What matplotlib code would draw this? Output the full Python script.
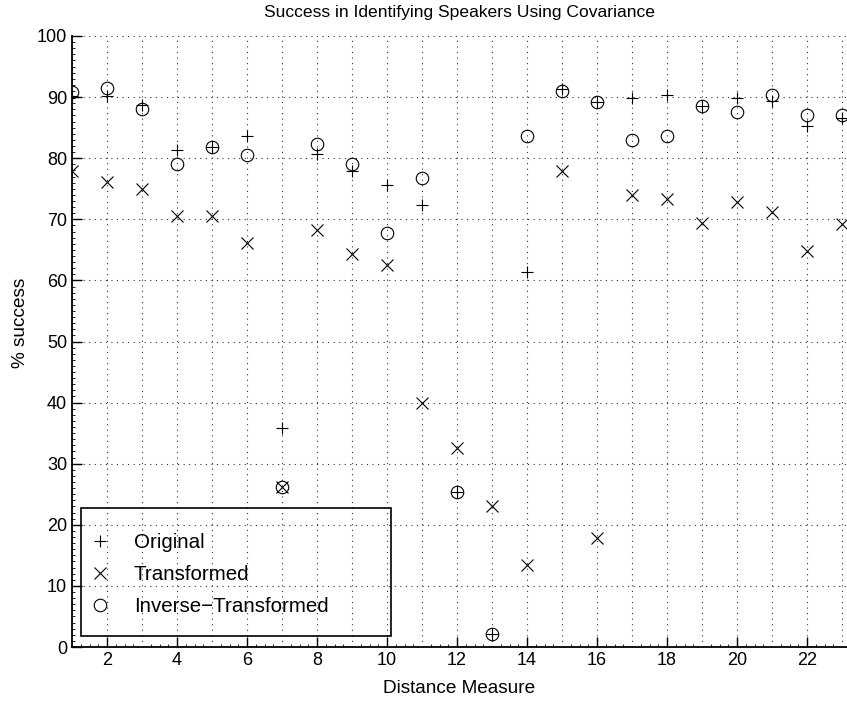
import matplotlib
matplotlib.use("Agg")
import matplotlib.pyplot as plt
from matplotlib.ticker import MultipleLocator
from matplotlib.patches import Rectangle

plt.rcParams['font.family'] = ['Liberation Sans', 'DejaVu Sans']

# distance measure index
measures = list(range(1, 24))

# % success for each series
original = [90.2, 90.2, 88.7, 81.3, 81.9, 83.6, 35.9, 80.7, 77.9, 75.6, 72.3,
            25.3, 2.1, 61.3, 91.3, 89.2, 89.8, 90.3, 88.6, 89.8, 89.4, 85.2, 86.6]
transformed = [77.9, 76.1, 75.0, 70.5, 70.5, 66.1, 26.2, 68.2, 64.3, 62.5, 39.9,
               32.6, 23.1, 13.4, 77.9, 17.9, 74.0, 73.4, 69.4, 72.8, 71.2, 64.8, 69.3]
inverse = [90.9, 91.5, 88.1, 79.0, 81.9, 80.6, 26.2, 82.4, 79.1, 67.7, 76.7,
           25.3, 2.1, 83.6, 91.0, 89.2, 83.0, 83.6, 88.6, 87.5, 90.4, 87.0, 87.0]

fig = plt.figure(figsize=(8.47, 7.04), dpi=100)
ax = fig.add_axes([72/847, 57/704, 775/847, 611/704])

ax.plot(measures, original, '+', color='black', ms=9, mew=0.8, label='Original')
ax.plot(measures, transformed, 'x', color='black', ms=9, mew=0.8, label='Transformed')
ax.plot(measures, inverse, 'o', color='black', mfc='none', ms=9, mew=0.8,
        label='Inverse\u2212Transformed')

ax.set_xlim(1, 23.14)
ax.set_ylim(0, 100)
ax.set_yticks(range(0, 101, 10))
ax.xaxis.set_minor_locator(MultipleLocator(0.25))
ax.yaxis.set_minor_locator(MultipleLocator(1))
ax.tick_params(which='major', direction='in', length=7, width=1, labelsize=13)
ax.tick_params(which='minor', direction='in', length=2, width=0.6)

ax.spines['top'].set_visible(False)
ax.spines['right'].set_visible(False)
ax.spines['left'].set_linewidth(1.3)
ax.spines['bottom'].set_linewidth(1.3)

# matlab style dotted grid on every integer step
ax.set_xticks(range(1, 24))
ax.set_xticklabels(['' if i % 2 else str(i) for i in range(1, 24)])
for i in range(1, 24):
    ax.axvline(i, color='0.2', ls=(0, (1, 4)), lw=0.8, zorder=0)
for j in range(10, 101, 10):
    ax.axhline(j, color='0.2', ls=(0, (1, 4)), lw=0.8, zorder=0)
# only show tick marks at even positions
for i, t in enumerate(ax.xaxis.get_major_ticks()):
    if (i + 1) % 2:
        t.tick1line.set_visible(False)

ax.set_title('Success in Identifying Speakers Using Covariance', fontsize=12.6, pad=14)
ax.set_xlabel('Distance Measure', fontsize=13.7, labelpad=8)
ax.set_ylabel('% success', fontsize=13.7)
ax.yaxis.set_label_coords(-0.056, 0.53)

# legend box drawn separately, transparent so the grid shows through
ax.add_patch(Rectangle((0.0116, 0.018), 0.4, 0.2095, transform=ax.transAxes,
                       fill=False, edgecolor='black', lw=1.2, zorder=5))
ax.legend(loc='upper left', bbox_to_anchor=(0.0335, 0.187), fontsize=14.8,
          frameon=False, borderpad=0, borderaxespad=0, labelspacing=0.65,
          handletextpad=1.55, handlelength=0.2)

fig.savefig('out.png', dpi=100)
